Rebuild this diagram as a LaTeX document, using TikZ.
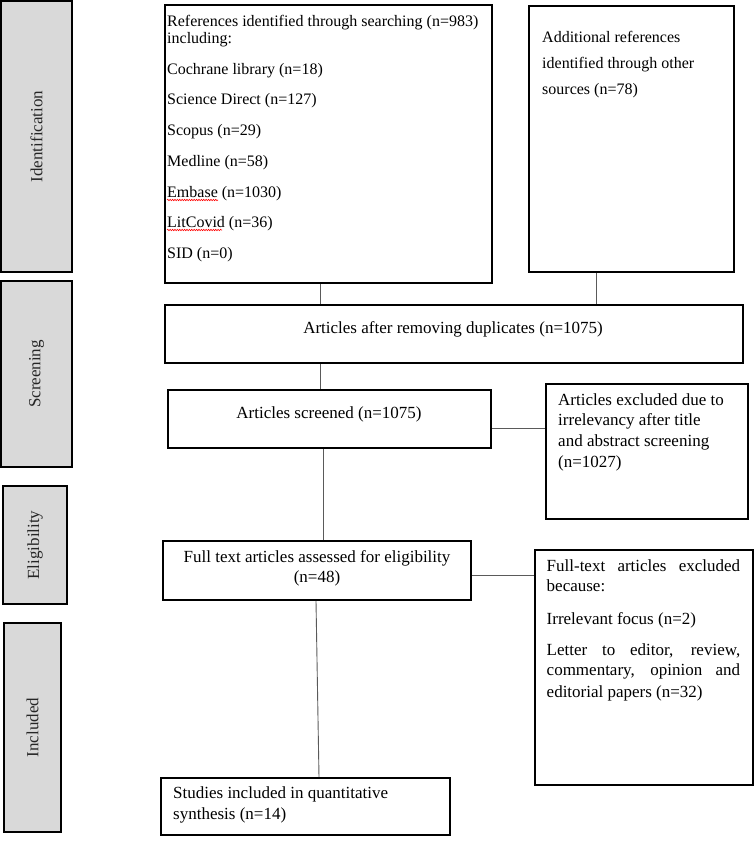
\documentclass[tikz,border=0pt]{standalone}
\usepackage{fontspec}
\setmainfont{Liberation Serif}
\usetikzlibrary{decorations.pathmorphing}
\definecolor{phasegray}{HTML}{D9D9D9}
\definecolor{connc}{HTML}{5A5A5A}
\begin{document}
\begin{tikzpicture}[x=1pt,y=-1pt,
  phase/.style={draw=black,line width=1.8pt,fill=phasegray,rotate=90,inner sep=0,
    font=\fontsize{17}{20}\selectfont,text=black!85},
  box/.style={draw=black,line width=1.7pt,fill=white,inner sep=0},
  conn/.style={draw=connc,line width=0.9pt},
  txt/.style={font=\fontsize{17}{20}\selectfont,inner sep=0,anchor=base west},
  txtu/.style={font=\fontsize{16}{18}\selectfont,inner sep=0,anchor=base west},
  txtc/.style={font=\fontsize{17}{20}\selectfont,inner sep=0,anchor=base},
  wavy/.style={draw=red,line width=0.6pt,decorate,decoration={snake,amplitude=0.7pt,segment length=2.4pt}}]
\useasboundingbox (0,0) rectangle (754,841);
% phase boxes
\node[phase,minimum width=271,minimum height=71] (ident) at (36.5,136.5) {Identification};
\node[phase,minimum width=186,minimum height=71] (screen) at (36.5,374) {Screening};
\node[phase,minimum width=118,minimum height=64] (elig) at (35,545) {Eligibility};
\node[phase,minimum width=209,minimum height=57] (incl) at (32.5,727.5) {Included};
% main boxes
\node[box,minimum width=327,minimum height=278] (refs) at (328.5,144) {};
\node[box,minimum width=205,minimum height=266] (add) at (631.5,139) {};
\node[box,minimum width=578,minimum height=58] (after) at (454,334) {};
\node[box,minimum width=323,minimum height=58] (scr) at (329.5,419) {};
\node[box,minimum width=202,minimum height=135] (ex1) at (647,451.5) {};
\node[box,minimum width=308,minimum height=59] (ft) at (317,570.5) {};
\node[box,minimum width=218,minimum height=235] (ex2) at (644,667.5) {};
\node[box,minimum width=289,minimum height=57] (st) at (305.5,806.5) {};
% connectors
\coordinate (v1) at (320,0);
\coordinate (v2) at (596,0);
\coordinate (v3) at (323,0);
\coordinate (v4a) at (316,0);
\coordinate (v4b) at (319,0);
\coordinate (h1) at (0,428);
\coordinate (h2) at (0,575);
\draw[conn] (v1 |- refs.south) -- (v1 |- after.north);
\draw[conn] (v2 |- add.south) -- (v2 |- after.north);
\draw[conn] (v1 |- after.south) -- (v1 |- scr.north);
\draw[conn] (scr.east |- h1) -- (ex1.west |- h1);
\draw[conn] (v3 |- scr.south) -- (v3 |- ft.north);
\draw[conn] (ft.east |- h2) -- (ex2.west |- h2);
\draw[conn] (v4a |- ft.south) -- (v4b |- st.north);
% references box text
\node[txtu] (r1) at (167,26) {References identified through searching (n=983)};
\node[txtu] (r2) at (167,43) {including:};
\node[txtu] (r3) at (167,74) {Cochrane library (n=18)};
\node[txtu] (r4) at (167,104) {Science Direct (n=127)};
\node[txtu] (r5) at (167,135) {Scopus (n=29)};
\node[txtu] (r6) at (167,166) {Medline (n=58)};
\node[txtu] (r7) at (167,197) {Embase (n=1030)};
\node[txtu] (r8) at (167,227) {LitCovid (n=36)};
\node[txtu] (r9) at (167,258) {SID (n=0)};
\draw[wavy] ([yshift=-3pt]r7.base west) -- ++(51,0);
\draw[wavy] ([yshift=-3pt]r8.base west) -- ++(55,0);
% additional box text
\node[txtu] (a1) at (542,42.5) {Additional references};
\node[txtu] (a2) at (542,68.5) {identified through other};
\node[txtu] (a3) at (542,94.5) {sources (n=78)};
% lower texts
\node[txtc] (aft) at (453,333.5) {Articles after removing duplicates (n=1075)};
\node[txtc] (scrt) at (329,418.5) {Articles screened (n=1075)};
\node[txt] (e11) at (558,405) {Articles excluded due to};
\node[txt] (e12) at (558,425.5) {irrelevancy after title};
\node[txt] (e13) at (558,446) {and abstract screening};
\node[txt] (e14) at (558,467) {(n=1027)};
\node[txtc] (ft1) at (317,562.7) {Full text articles assessed for eligibility};
\node[txtc] (ft2) at (317,582.4) {(n=48)};
\node[txt] (e21) at (546.5,571.5) {\makebox[193.5pt][s]{Full-text articles excluded}};
\node[txt] (e22) at (546.5,591.3) {because:};
\node[txt] (e23) at (546.5,624.2) {Irrelevant focus (n=2)};
\node[txt] (e24) at (546.5,655.4) {\makebox[193.5pt][s]{Letter to editor, review,}};
\node[txt] (e25) at (546.5,675.8) {\makebox[193.5pt][s]{commentary, opinion and}};
\node[txt] (e26) at (546.5,697.5) {editorial papers (n=32)};
\node[txt] (s1) at (173,798.5) {Studies included in quantitative};
\node[txt] (s2) at (173,819) {synthesis (n=14)};
\end{tikzpicture}
\end{document}
